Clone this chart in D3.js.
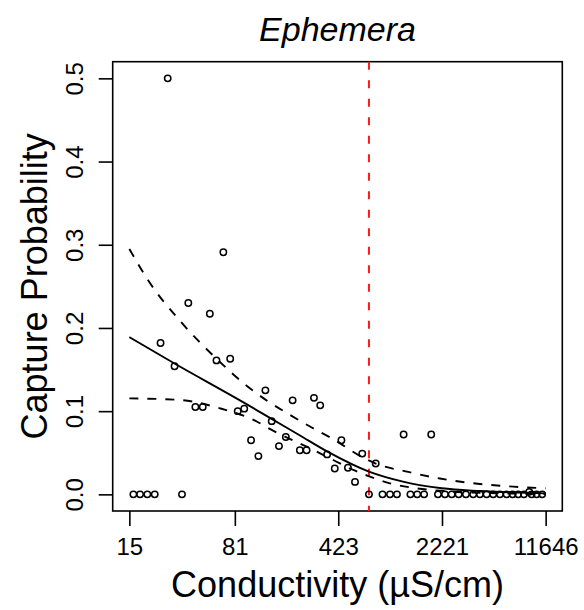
<!DOCTYPE html>
<html><head><meta charset="utf-8">
<script src="https://cdn.jsdelivr.net/npm/d3@7"></script>
<style>body{margin:0;background:#fff}svg{display:block}text{font-family:"Liberation Sans",Arial,Helvetica,sans-serif;fill:#000}</style>
</head><body>
<script>
// ---- data ----
const title = "Ephemera";
const xLabel = "Conductivity (µS/cm)";
const yLabel = "Capture Probability";
const xTickValues = [15, 81, 423, 2221, 11646];
const xTickLabels = ["15", "81", "423", "2221", "11646"];
const yTickValues = [0, 0.1, 0.2, 0.3, 0.4, 0.5];
const yTickLabels = ["0.0", "0.1", "0.2", "0.3", "0.4", "0.5"];
const threshold = 691;

const obsConductivity = [16, 17.8, 20, 22.5, 24.7, 27.7, 30.9, 34.8, 38.5, 43.1, 48.5, 54.3, 60.4, 67.4, 75.2, 84.8, 94.1, 105, 118, 132, 146, 164, 183, 204, 229, 255, 287, 317, 354, 400, 445, 494, 553, 621, 691, 770, 858, 967, 1081, 1203, 1341, 1495, 1669, 1870, 2082, 2328, 2595, 2897, 3256, 3658, 4072, 4533, 5037, 5607, 6241, 6868, 7510, 8228, 8954, 9302, 10077, 11021];
const obsCapture = [0, 0, 0, 0, 0.182, 0.5, 0.154, 0, 0.230, 0.105, 0.105, 0.217, 0.161, 0.291, 0.163, 0.100, 0.103, 0.065, 0.046, 0.125, 0.088, 0.058, 0.069, 0.113, 0.053, 0.053, 0.116, 0.107, 0.048, 0.031, 0.065, 0.032, 0.015, 0.049, 0, 0.037, 0, 0, 0, 0.072, 0, 0, 0, 0.072, 0, 0, 0, 0, 0, 0, 0, 0, 0, 0, 0, 0, 0, 0, 0.003, 0, 0, 0];

const fitConductivity = [15, 31.1, 87.9, 146.7, 229.5, 358.9, 691, 1190, 2219, 4072, 11646];
const fitProb = [0.189, 0.157, 0.113, 0.0905, 0.0707, 0.051, 0.0273, 0.0153, 0.0073, 0.004, 0.0012];

const upperConductivity = [15, 20.3, 34.3, 59.6, 98.8, 137, 198, 279, 385, 631, 770, 1295, 2149, 4072, 6934, 11646];
const upperProb = [0.295, 0.257, 0.207, 0.164, 0.130, 0.112, 0.095, 0.080, 0.067, 0.044, 0.037, 0.027, 0.019, 0.0125, 0.0093, 0.0073];

const lowerConductivity = [15, 33.7, 63.9, 114.9, 146.0, 255.4, 390.7, 537.8, 702, 966.7, 1481, 2522, 5607, 11646];
const lowerProb = [0.1154, 0.1134, 0.1034, 0.0876, 0.0774, 0.0573, 0.0413, 0.0293, 0.0213, 0.0133, 0.0073, 0.0035, 0.0013, 0.0004];

// ---- layout ----
const W = 584, H = 610;
const plot = {left: 112.7, right: 562.3, top: 61.7, bottom: 511};

const svg = d3.select("body").append("svg").attr("width", W).attr("height", H);

const lo = Math.log10(xTickValues[0]), hi = Math.log10(xTickValues[xTickValues.length - 1]);
const pad = 0.04 * (hi - lo);
const x = d3.scaleLog().domain([Math.pow(10, lo - pad), Math.pow(10, hi + pad)]).range([plot.left, plot.right]);
const y = d3.scaleLinear().domain([-0.02, 0.52]).range([plot.bottom, plot.top]);

// box
svg.append("rect").attr("x", plot.left).attr("y", plot.top)
  .attr("width", plot.right - plot.left).attr("height", plot.bottom - plot.top)
  .attr("fill", "none").attr("stroke", "#000").attr("stroke-width", 1.6);

// x axis
const xAxis = d3.axisBottom(x).tickValues(xTickValues).tickFormat((d, i) => xTickLabels[i]).tickSize(15).tickPadding(12);
const gx = svg.append("g").attr("transform", `translate(0,${plot.bottom})`).call(xAxis);
gx.select(".domain").remove();
gx.selectAll(".tick line").attr("stroke", "#000").attr("stroke-width", 1.6);
gx.selectAll(".tick text").attr("font-size", 24).attr("font-family", "Liberation Sans, Arial, sans-serif").attr("fill", "#000").attr("dy", "0.71em");

// y axis
const yAxis = d3.axisLeft(y).tickValues(yTickValues).tickFormat((d, i) => yTickLabels[i]).tickSize(14).tickPadding(0);
const gy = svg.append("g").attr("transform", `translate(${plot.left},0)`).call(yAxis);
gy.select(".domain").remove();
gy.selectAll(".tick line").attr("stroke", "#000").attr("stroke-width", 1.6);
gy.selectAll(".tick text").attr("font-size", 24).attr("font-family", "Liberation Sans, Arial, sans-serif").attr("fill", "#000")
  .attr("x", null).attr("dy", null).attr("text-anchor", "middle")
  .attr("transform", "translate(-30,0) rotate(-90)");

// titles
svg.append("text").attr("x", (plot.left + plot.right) / 2).attr("y", 41)
  .attr("text-anchor", "middle").attr("font-size", 34).attr("font-style", "italic").text(title);
svg.append("text").attr("x", (plot.left + plot.right) / 2).attr("y", 597)
  .attr("text-anchor", "middle").attr("font-size", 36).text(xLabel);
svg.append("text").attr("transform", `translate(47,${(plot.top + plot.bottom) / 2}) rotate(-90)`)
  .attr("text-anchor", "middle").attr("font-size", 36).text(yLabel);

// threshold
svg.append("line").attr("x1", x(threshold)).attr("x2", x(threshold))
  .attr("y1", plot.top).attr("y2", plot.bottom)
  .attr("stroke", "#ff1a1a").attr("stroke-width", 2).attr("stroke-dasharray", "8,10.5");

// points
const pts = obsConductivity.map((c, i) => [c, obsCapture[i]]);
svg.append("g").selectAll("circle").data(pts).join("circle")
  .attr("cx", d => x(d[0])).attr("cy", d => y(d[1])).attr("r", 3.2)
  .attr("fill", "none").attr("stroke", "#000").attr("stroke-width", 1.5);

// curves
const line = d3.line().x(d => x(d[0])).y(d => y(d[1])).curve(d3.curveMonotoneX);
svg.append("path").attr("d", line(fitConductivity.map((c, i) => [c, fitProb[i]])))
  .attr("fill", "none").attr("stroke", "#000").attr("stroke-width", 1.9);
svg.append("path").attr("d", line(upperConductivity.map((c, i) => [c, upperProb[i]])))
  .attr("fill", "none").attr("stroke", "#000").attr("stroke-width", 1.9).attr("stroke-dasharray", "9,9");
svg.append("path").attr("d", line(lowerConductivity.map((c, i) => [c, lowerProb[i]])))
  .attr("fill", "none").attr("stroke", "#000").attr("stroke-width", 1.9).attr("stroke-dasharray", "9,9");
</script>
</body></html>
